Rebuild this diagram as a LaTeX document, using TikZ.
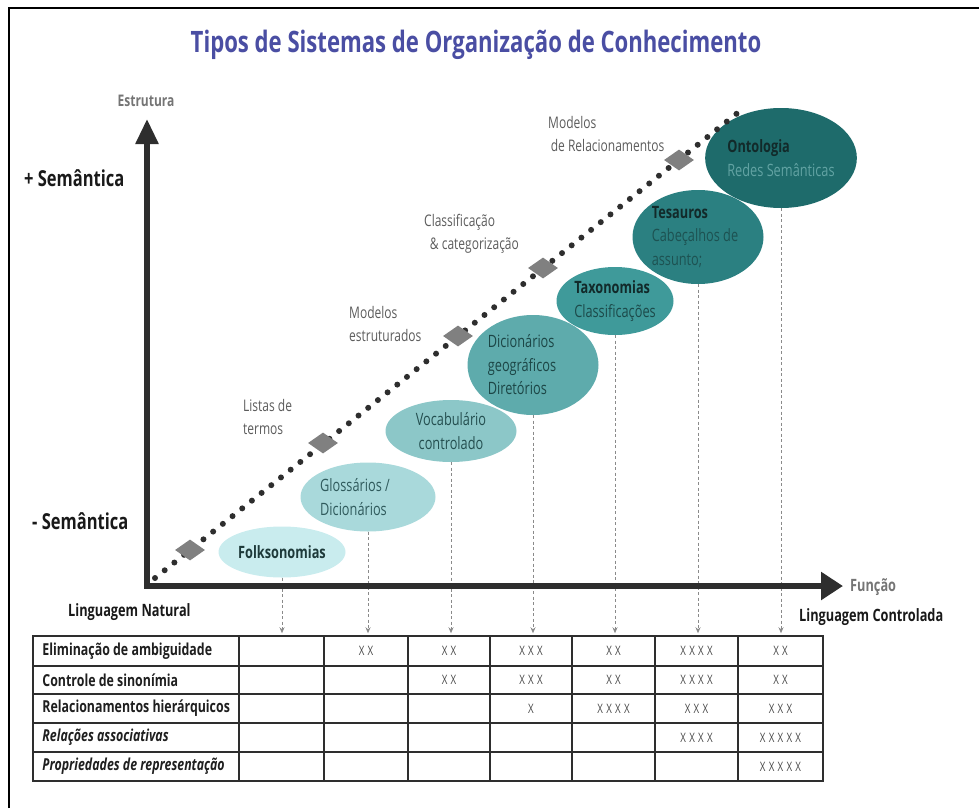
\documentclass[tikz,border=0pt]{standalone}
\usepackage{fontspec}
\setmainfont{Open Sans}[FakeStretch=0.75]
\usetikzlibrary{shapes.geometric,arrows.meta}
\definecolor{titleblue}{HTML}{4A4EA3}
\definecolor{axisc}{HTML}{2E2E2E}
\definecolor{labgray}{HTML}{5C5C5C}
\definecolor{dgray}{HTML}{808080}
\definecolor{dashc}{HTML}{8A8A8A}
\definecolor{eA}{HTML}{C9ECEE}
\definecolor{eB}{HTML}{A9D9DB}
\definecolor{eC}{HTML}{8CC7C8}
\definecolor{eD}{HTML}{5EABAC}
\definecolor{eE}{HTML}{3F9A9A}
\definecolor{eF}{HTML}{2B8081}
\definecolor{eG}{HTML}{1E6B6B}
\definecolor{tA}{HTML}{1E3A3A}
\definecolor{tB}{HTML}{2F5A5C}
\definecolor{tC}{HTML}{244F50}
\definecolor{tD}{HTML}{1C4646}
\definecolor{tE}{HTML}{1C4A4A}
\definecolor{tF}{HTML}{1D5252}
\definecolor{tG}{HTML}{62A3A3}
\definecolor{tbold}{HTML}{122A2A}
\definecolor{valc}{HTML}{4A4A4A}
\newcommand\fsz[2]{\fontsize{#1}{#2}\selectfont}
\begin{document}
\begin{tikzpicture}[x=1pt,y=-1pt,
  ell/.style={ellipse, inner sep=0pt, align=left, font=\fsz{17}{23.5}},
  etext/.style={inner sep=0pt, align=left, font=\fsz{17}{23.5}},
  dlab/.style={text=labgray, align=left, font=\fsz{16}{23}, anchor=west, inner sep=0pt},
  dmd/.style={diamond, fill=dgray, minimum width=30pt, minimum height=21pt, inner sep=0pt},
  dotline/.style={line width=6pt, line cap=round, dash pattern=on 0pt off 12.4pt, draw=axisc},
  dasharr/.style={draw=dashc, line width=0.8pt, dash pattern=on 3pt off 2.5pt, -{Stealth[length=6pt,width=5pt]}, shorten >=2pt},
  cell/.style={draw=axisc, line width=1.5pt, inner sep=0pt},
  rowlab/.style={anchor=west, inner sep=0pt, font=\fsz{16.5}{18}\bfseries, text=black!88},
  val/.style={inner sep=0pt, font=\fsz{13}{15}\addfontfeature{LetterSpace=25}, text=valc},
  biglab/.style={anchor=west, inner sep=0pt, font=\fsz{22}{24}\bfseries, text=black!90},
  axlab/.style={anchor=west, inner sep=0pt, font=\fsz{17}{20}\bfseries, text=black!90}
]
\useasboundingbox (0,0) rectangle (979,808);
% frame
\draw[line width=2pt, black] (9,808) -- (9,8) -- (979,8);
% title
\node[font=\fsz{29.5}{32}\bfseries, text=titleblue, inner sep=0pt] (title) at (476,45) {Tipos de Sistemas de Organização de Conhecimento};
% axis labels
\node[font=\fsz{16}{18}\bfseries, text=labgray!85, inner sep=0pt] (estr) at (146,101) {Estrutura};
\node[biglab] (semplus) at (24,178) {+ Semântica};
\node[biglab] (semminus) at (32,521) {- Semântica};
\node[axlab] (lnat) at (68,612) {Linguagem Natural};
\node[axlab, font=\fsz{17}{20}\bfseries, text=labgray!85] (func) at (850,587) {Função};
\node[axlab] (lcon) at (799,617) {Linguagem Controlada};

% ellipses
\node[ell, fill=eA, minimum width=127pt, minimum height=51pt, text=tA, align=center] (e1) at (282,552) {\textbf{Folksonomias}};
\node[ell, fill=eB, minimum width=135pt, minimum height=69pt] (e2) at (368,497) {};
\node[etext, text=tB] (t2) at ([xshift=-13pt]e2.center) {Glossários /\\Dicionários};
\node[ell, fill=eC, minimum width=131pt, minimum height=62pt, text=tC, align=center] (e3) at (451,431) {Vocabulário\\controlado};
\node[ell, fill=eD, minimum width=131pt, minimum height=100pt] (e4) at (533,365) {};
\node[etext, text=tD] (t4) at ([xshift=-11pt]e4.center) {Dicionários\\geográficos\\Diretórios};
\node[ell, fill=eE, minimum width=117pt, minimum height=68pt, text=tE] (e5) at (615,301) {\textcolor{tbold}{\textbf{Taxonomias}}\\Classificações};
\node[ell, fill=eF, minimum width=131pt, minimum height=94pt] (e6) at (698,237) {};
\node[etext, text=tF] (t6) at ([xshift=-3pt]e6.center) {\textcolor{tbold}{\textbf{Tesauros}}\\Cabeçalhos de\\assunto;};
\node[ell, fill=eG, minimum width=148pt, minimum height=100pt, text=tG] (e7) at (781,158) {\textcolor{tbold}{\textbf{Ontologia}}\\Redes Semânticas};

% dotted diagonal
\coordinate (dstart) at (155,578);
\coordinate (dend) at (740,111);
\draw[dotline] (dstart) -- (dend);
\node[dmd] (d1) at (190,550) {};
\node[dmd] (d2) at (323,443) {};
\node[dmd] (d3) at (458,336) {};
\node[dmd] (d4) at (543,268) {};
\node[dmd] (d5) at (679,160) {};
\node[dlab] (l1) at (243,417) {Listas de\\termos};
\node[dlab] (l2) at (349,324) {Modelos\\estruturados};
\node[dlab] (l3) at (424,234) {Classificação\\\ \,\& categorização};
\node[dlab] (l4) at (548,134) {Modelos\\\,de Relacionamentos};

% table
\foreach \t/\b [count=\j] in {636/666,666/694,694/723,723/752,752/781}{
  \foreach \l/\r [count=\i] in {33/239,239/324,324/408,408/490,490/572,572/655,655/738,738/823}{
    \node[cell, minimum width={(\r-\l)*1pt}, minimum height={(\b-\t)*1pt}] (c\j-\i) at ({(\l+\r)/2},{(\t+\b)/2}) {};
  }
}
\node[rowlab] at ([xshift=10pt]c1-1.west) {Eliminação de ambiguidade};
\node[rowlab] at ([xshift=10pt]c2-1.west) {Controle de sinonímia};
\node[rowlab] at ([xshift=10pt]c3-1.west) {Relacionamentos hierárquicos};
\node[rowlab, font=\fsz{16.5}{18}\bfseries\itshape] at ([xshift=10pt]c4-1.west) {Relações associativas};
\node[rowlab, font=\fsz{16.5}{18}\bfseries\itshape] at ([xshift=10pt]c5-1.west) {Propriedades de representação};
% values
\node[val] at (c1-3) {XX};
\node[val] at (c1-4) {XX};
\node[val] at (c1-5) {XXX};
\node[val] at (c1-6) {XX};
\node[val] at (c1-7) {XXXX};
\node[val] at (c1-8) {XX};
\node[val] at (c2-4) {XX};
\node[val] at (c2-5) {XXX};
\node[val] at (c2-6) {XX};
\node[val] at (c2-7) {XXXX};
\node[val] at (c2-8) {XX};
\node[val] at (c3-5) {X};
\node[val] at (c3-6) {XXXX};
\node[val] at (c3-7) {XXX};
\node[val] at (c3-8) {XXX};
\node[val] at (c4-7) {XXXX};
\node[val] at (c4-8) {XXXXX};
\node[val] at (c5-8) {XXXXX};

% dashed connectors
\foreach \k [evaluate=\k as \c using int(\k+1)] in {1,...,7}{
  \draw[dasharr] (e\k.south) -- (e\k.south |- c1-\c.north);
}

% axes
\coordinate (ytip) at (147,119);
\coordinate (orig) at (147,586);
\coordinate (xtip) at (843,586);
\draw[draw=axisc, line width=5.5pt, {Triangle[length=25pt,width=22pt]}-{Triangle[length=22pt,width=27pt]}] (ytip) -- (orig) -- (xtip);
\end{tikzpicture}
\end{document}
